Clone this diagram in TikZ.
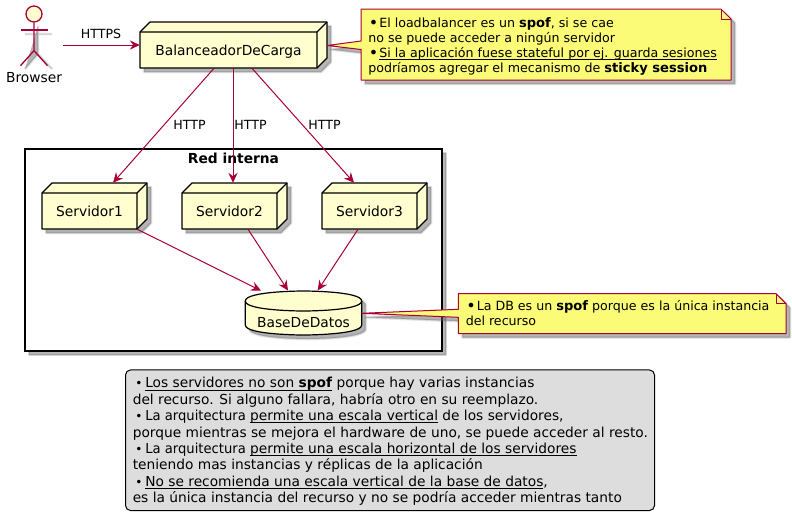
\documentclass[tikz,border=0pt]{standalone}
\usepackage{graphicx}
\usepackage{fontspec}
\setmainfont{DejaVu Sans}
\usetikzlibrary{arrows.meta}
\definecolor{umlred}{HTML}{A80036}
\definecolor{umlfill}{HTML}{FEFECE}
\definecolor{umlnote}{HTML}{FBFB77}
\definecolor{umllegend}{HTML}{DDDDDD}
\newsavebox{\ulbox}
\newcommand{\ulin}[1]{\sbox{\ulbox}{#1}\leavevmode\rlap{\rule[-1.9pt]{\wd\ulbox}{0.6pt}}\usebox{\ulbox}}
\newcommand{\notebul}{\makebox[8.25pt][l]{\hspace{0.4pt}\raisebox{-0.7pt}{\fontsize{12}{12}\selectfont •}}}
\newcommand{\legbul}{\makebox[9.4pt][c]{\small •}}
\newcommand{\notebf}[1]{{\fontsize{9.8}{11.33}\selectfont\bfseries #1}}
% soft shadow: three translucent layers offset by 4px
\newcommand{\softshadow}[1]{%
  \begin{scope}[shift={(4,4)}]
    \fill[black!60,opacity=.12,draw=black!60,line width=2.2pt,line join=round] #1;
    \fill[black!60,opacity=.18,draw=black!60,line width=1.1pt,line join=round] #1;
    \fill[black!60,opacity=.28] #1;
  \end{scope}}
% 3D box: name, x1, y1, x2, y2 of the front face, text
\newcommand{\cubenode}[6]{%
  \softshadow{(#2,#3) -- (#2+10,#3-10) -- (#4+10,#3-10) -- (#4+10,#5-10) -- (#4,#5) -- (#2,#5) -- cycle}
  \filldraw[boxline,fill=umlfill] (#2,#3) -- (#2+10,#3-10) -- (#4+10,#3-10) -- (#4+10,#5-10) -- (#4,#5) -- (#2,#5) -- cycle;
  \draw[boxline] (#2,#3) -- (#4,#3) -- (#4,#5) (#4,#3) -- (#4+10,#3-10);
  \node[cubeface,minimum width={(#4-#2)*0.75pt},minimum height={(#5-#3)*0.75pt}] (#1) at ({(#2+#4)/2},{(#3+#5)/2}) {#6};}
\tikzset{
  x=0.75pt,y=-0.75pt,
  boxline/.style={draw=black,line width=1pt,line join=round},
  cubeface/.style={inner sep=0pt,text height=7.5pt,text depth=0pt,font=\fontsize{10.35}{12}\selectfont},
  arr/.style={draw=umlred,line width=0.75pt,-{Stealth[length=7.5pt,width=7pt,inset=2.6pt]}},
  elabel/.style={anchor=base,inner sep=0pt,font=\fontsize{9.45}{11.25}\selectfont},
  notetext/.style={anchor=north west,inner sep=0pt,align=left,font=\fontsize{9.47}{11.33}\selectfont},
  legendtext/.style={anchor=north west,inner sep=0pt,align=left,font=\fontsize{10.32}{12.28}\selectfont},
  noteshape/.style={draw=umlred,fill=umlnote,line width=0.75pt,line join=round},
}
\begin{document}
\begin{tikzpicture}
\useasboundingbox (0,0) rectangle (792,525);
% cluster
\softshadow{(25,149) rectangle (442,351)}
\node[draw=black,fill=white,line width=1pt,inner sep=0pt,minimum width=312.75pt,minimum height=151.5pt] (net) at (233.5,250) {};
\node[anchor=base,inner sep=0pt,font=\fontsize{10.35}{12}\selectfont\bfseries] (nettitle) at (233.5,163) {Red interna};
% actor
\softshadow{(34,22) -- (34,50) -- (21,65) (34,50) -- (48,65) (21,30) -- (48,30)}
\node[circle,draw=umlred,fill=umlfill,line width=1pt,inner sep=0pt,minimum size=12pt] (browser) at (34,14) {};
\draw[umlred,line width=1pt] (browser.south) -- ++(0,28) -- ++(-13.5,15) ++(13.5,-15) -- ++(13.5,15);
\draw[umlred,line width=1pt] ([shift={(-13.5,16)}]browser.center) -- ([shift={(13.5,16)}]browser.center);
\node[anchor=base,inner sep=0pt,font=\fontsize{10.35}{12}\selectfont] (browserlabel) at (34,82) {Browser};
% boxes
\cubenode{lb}{140}{32}{317}{68}{BalanceadorDeCarga}
\cubenode{s1}{42}{193}{137}{229}{Servidor1}
\cubenode{s2}{182}{193}{277}{229}{Servidor2}
\cubenode{s3}{322}{193}{417}{229}{Servidor3}
% database
\softshadow{(245.3,301) .. controls (245.3,291) and (303.5,291) .. (303.5,291) .. controls (303.5,291) and (361.7,291) .. (361.7,301) -- (361.7,325) .. controls (361.7,335) and (303.5,335) .. (303.5,335) .. controls (303.5,335) and (245.3,335) .. (245.3,325) -- cycle}
\filldraw[boxline,fill=umlfill,line width=0.9pt] (245.3,301) .. controls (245.3,291) and (303.5,291) .. (303.5,291) .. controls (303.5,291) and (361.7,291) .. (361.7,301) -- (361.7,325) .. controls (361.7,335) and (303.5,335) .. (303.5,335) .. controls (303.5,335) and (245.3,335) .. (245.3,325) -- cycle;
\draw[boxline,line width=0.9pt] (245.3,301) .. controls (245.3,311) and (303.5,311) .. (303.5,311) .. controls (303.5,311) and (361.7,311) .. (361.7,301);
\node[anchor=base,inner sep=0pt,font=\fontsize{10.35}{12}\selectfont,minimum width=87pt] (db) at (303.5,327.5) {BaseDeDatos};
% connectors
\draw[arr] ([shift={(29,31)}]browser.center) -- ([shift={(0,-5)}]lb.west);
\draw[arr] ([shift={(-14.5,0)}]lb.south) -- ([shift={(23.5,-10)}]s1.north);
\draw[arr] ([shift={(4.5,0)}]lb.south) -- ([shift={(3.5,-10)}]s2.north);
\draw[arr] ([shift={(23.5,0)}]lb.south) -- ([shift={(-15.5,-10)}]s3.north);
\draw[arr] (s1.south east) -- ([shift={(-42.5,-36.8)}]db.base);
\draw[arr] ([shift={(18.5,0)}]s2.south) -- ([shift={(-15.5,-37)}]db.base);
\draw[arr] ([shift={(-11.5,0)}]s3.south) -- ([shift={(14.2,-37)}]db.base);
% edge labels
\node[elabel] (l0) at (101,38) {HTTPS};
\node[elabel] (l1) at (189.5,129) {HTTP};
\node[elabel] (l2) at (250.5,129) {HTTP};
\node[elabel] (l3) at (324.5,129) {HTTP};
% note 1
\softshadow{(361,9) -- (721,9) -- (731,19) -- (731,80) -- (361,80) -- (361,49.5) -- (327,45.5) -- (361,41) -- cycle}
\draw[noteshape] (361,9) -- (721,9) -- (731,19) -- (731,80) -- (361,80) -- (361,49.5) -- ([shift={(10,-4.5)}]lb.east) -- (361,41) -- cycle;
\draw[noteshape,fill=none] (721,9) -- (721,19) -- (731,19);
\node[notetext] (n1) at (368,17) {\notebul El loadbalancer es un \notebf{spof}, si se cae\\
no se puede acceder a ningún servidor\\
\notebul \ulin{Si la aplicación fuese stateful por ej. guarda sesiones}\\
podríamos agregar el mecanismo de \notebf{sticky session}};
% note 2
\softshadow{(458.3,293.7) -- (776,293.7) -- (786,303.7) -- (786,333.5) -- (458.3,333.5) -- (458.3,317.3) -- (361.7,313.3) -- (458.3,309.3) -- cycle}
\draw[noteshape] (458.3,293.7) -- (776,293.7) -- (786,303.7) -- (786,333.5) -- (458.3,333.5) -- (458.3,317.3) -- ([shift={(58.2,-14.2)}]db.base) -- (458.3,309.3) -- cycle;
\draw[noteshape,fill=none] (776,293.7) -- (776,303.7) -- (786,303.7);
\node[notetext] (n2) at (465.5,300.4) {\notebul La DB es un \notebf{spof} porque es la única instancia\\
del recurso};
% legend
\node[draw=black,fill=umllegend,line width=0.75pt,rounded corners=3.75pt,inner sep=0pt,minimum width=396.75pt,minimum height=105.4pt] (legendbox) at (390,440.25) {};
\node[legendtext] (legend) at (132.5,377.2) {\legbul \ulin{Los servidores no son \textbf{spof}} porque hay varias instancias\\
del recurso. Si alguno fallara, habría otro en su reemplazo.\\
\legbul \scalebox{0.955}[1]{La arquitectura} \ulin{permite una escala vertical} de los servidores,\\
porque mientras se mejora el hardware de uno, se puede acceder al resto.\\
\legbul \scalebox{0.955}[1]{La arquitectura} \ulin{permite una escala horizontal de los servidores}\\
teniendo mas instancias y réplicas de la aplicación\\
\legbul \ulin{No se recomienda una escala vertical de la base de datos},\\
es la única instancia del recurso y no se podría acceder mientras tanto};
\end{tikzpicture}
\end{document}
